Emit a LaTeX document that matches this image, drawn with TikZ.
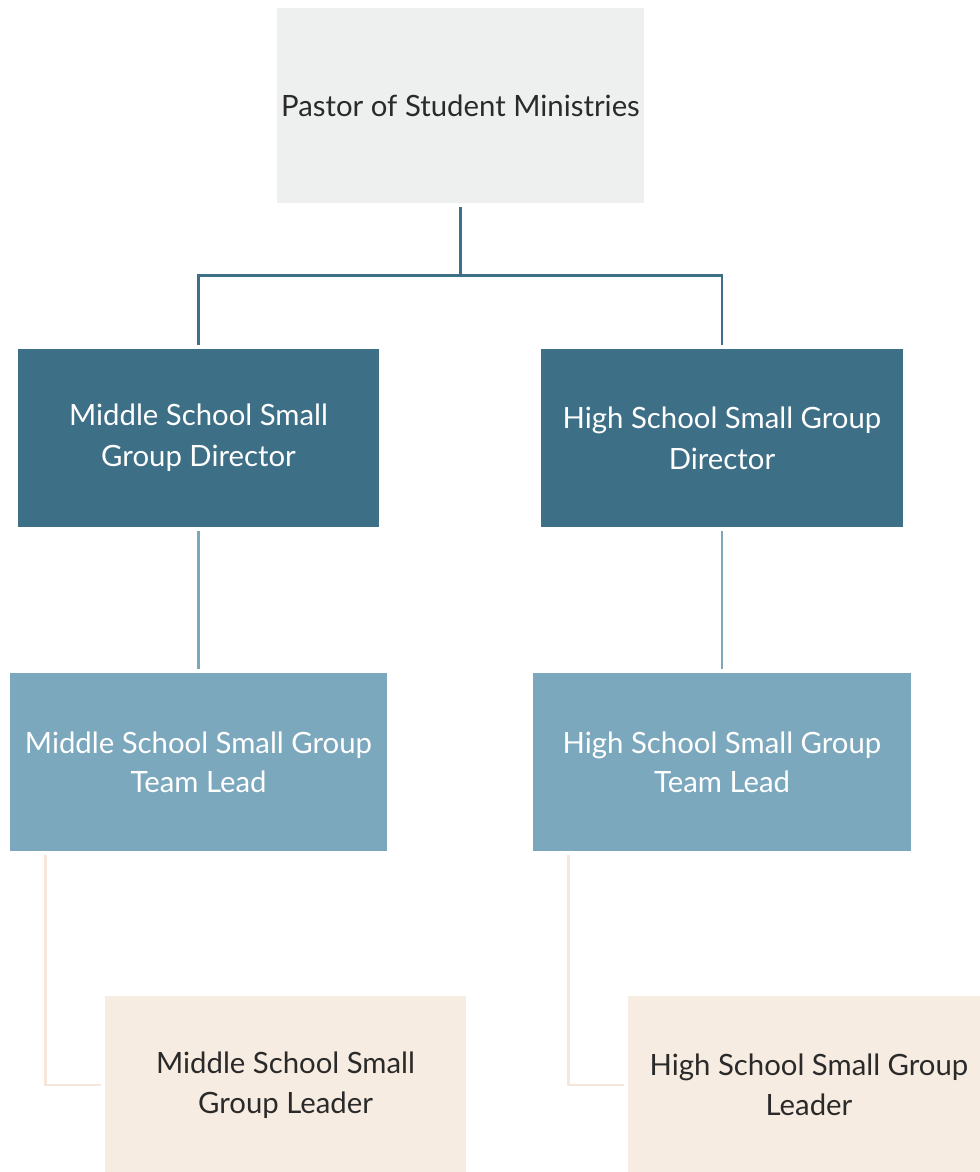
\documentclass[tikz,border=0pt]{standalone}
\usepackage{fontspec}
\setmainfont{Lato}
\usepackage{tikz}
\usetikzlibrary{calc}

\definecolor{topgray}{HTML}{EEF0EF}
\definecolor{darkteal}{HTML}{3D6F87}
\definecolor{lightteal}{HTML}{7CA8BD}
\definecolor{beige}{HTML}{F7ECE1}
\definecolor{beigeline}{HTML}{F6E7DA}
\definecolor{ink}{HTML}{2A2A2A}

\begin{document}
\begin{tikzpicture}[x=0.75pt,y=-0.75pt,
  box/.style={rectangle,inner sep=0pt,align=center,font=\fontsize{22}{31}\selectfont},
  level0/.style={box,fill=topgray,text=ink,minimum width=275.25pt,minimum height=146.25pt},
  level1/.style={box,fill=darkteal,text=white,minimum width=271pt,minimum height=133.5pt},
  level2/.style={box,fill=lightteal,text=white,minimum width=283pt,minimum height=133.5pt,font=\fontsize{22}{29.5}\selectfont},
  level3/.style={box,fill=beige,text=ink,minimum width=271pt,minimum height=133.5pt,font=\fontsize{22}{30}\selectfont},
  conn/.style={line width=2.2pt,shorten <=3pt,shorten >=3pt}]
\clip (0,0) rectangle (980,1172);
\fill[white] (0,0) rectangle (980,1172);
% boxes
\node[level0] (pastor) at (460.5,105.5) {Pastor of Student Ministries};
\node[level1] (msdir) at (198.5,438) {Middle School Small\\Group Director};
\node[level1] (hsdir) at (722,438) {High School Small Group\\Director};
\node[level2] (mslead) at (198.5,762) {Middle School Small Group\\Team Lead};
\node[level2] (hslead) at (722,762) {High School Small Group\\Team Lead};
\node[level3] (msleader) at (285.5,1085) {Middle School Small\\Group Leader};
\node[level3] (hsleader) at (809,1085) {High School Small Group\\Leader};
% lines
\draw[conn,darkteal] (pastor.south) -- ++(0,72) -| (msdir.north);
\draw[conn,darkteal] (pastor.south) -- ++(0,72) -| (hsdir.north);
\draw[conn,lightteal] (msdir) -- (mslead);
\draw[conn,lightteal] (hsdir) -- (hslead);
\draw[conn,beigeline] ($(mslead.south west)+(36,0)$) |- (msleader.west);
\draw[conn,beigeline] ($(hslead.south west)+(35,0)$) |- (hsleader.west);
\end{tikzpicture}
\end{document}
